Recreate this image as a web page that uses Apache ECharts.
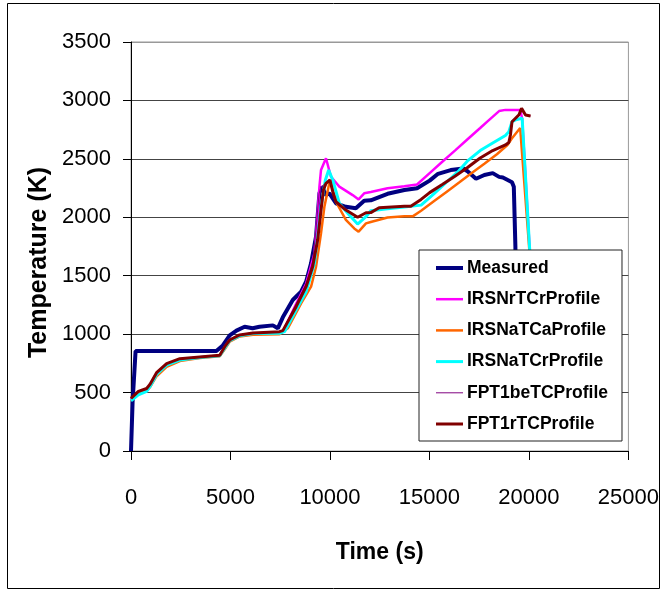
<!DOCTYPE html>
<html>
<head>
<meta charset="utf-8">
<script src="https://cdn.jsdelivr.net/npm/echarts@6/dist/echarts.min.js"></script>
<style>
html,body{margin:0;padding:0;background:#fff;}
#chart{width:662px;height:590px;}
</style>
</head>
<body>
<div id="chart"></div>
<script>
var seriesNames = ['Measured','IRSNrTCrProfile','IRSNaTCaProfile','IRSNaTCrProfile','FPT1beTCProfile','FPT1rTCProfile'];
var xTicks = [0,5000,10000,15000,20000,25000];
var yTicks = [0,500,1000,1500,2000,2500,3000,3500];

var measured = [[0,0],[80,420],[230,855],[1000,855],[2000,855],[3000,855],[4000,855],[4290,855],[4600,900],[4960,990],[5300,1030],[5710,1063],[6110,1050],[6460,1063],[7130,1075],[7380,1050],[7630,1144],[8130,1292],[8550,1363],[8800,1449],[9050,1606],[9300,1834],[9470,2205],[9600,2262],[9800,2190],[9970,2205],[10300,2120],[10800,2090],[11300,2077],[11720,2142],[12050,2145],[12895,2201],[13740,2233],[14375,2249],[15010,2314],[15433,2372],[16068,2404],[16700,2417],[16915,2394],[17340,2330],[17760,2362],[18180,2378],[18500,2346],[18690,2340],[19150,2300],[19240,2262],[19320,1748],[19380,600]];

var irsNrTCr = [[0,440],[370,505],[785,528],[950,565],[1285,665],[1790,744],[2455,785],[3460,802],[4460,815],[4710,890],[4960,950],[5460,990],[6130,1005],[7465,1015],[7630,1020],[8300,1260],[8800,1430],[9220,1692],[9380,2034],[9470,2262],[9550,2405],[9800,2505],[10050,2347],[10470,2262],[11140,2190],[11440,2153],[11720,2205],[12050,2217],[12895,2249],[13740,2265],[14375,2281],[15010,2378],[15645,2475],[16280,2571],[16915,2668],[17550,2764],[17975,2829],[18500,2909],[18820,2919],[19560,2919],[19660,2845],[20040,1720],[20100,600]];

var irsNaTCa = [[0,430],[370,495],[785,520],[950,545],[1285,640],[1790,720],[2455,770],[3460,795],[4460,810],[4710,870],[4960,935],[5460,980],[6130,995],[7465,1000],[7880,1050],[8550,1264],[9050,1406],[9300,1577],[9550,1862],[9720,2090],[10000,2319],[10300,2133],[10800,1977],[11220,1905],[11440,1877],[11810,1948],[12050,1960],[12895,1998],[13740,2008],[14160,2008],[14580,2056],[15220,2137],[15855,2217],[16490,2297],[17125,2378],[17760,2458],[18390,2539],[18920,2619],[19140,2674],[19560,2764],[19630,2761],[20020,1720],[20080,600]];

var irsNaTCr = [[0,430],[370,480],[785,510],[950,550],[1285,655],[1790,735],[2455,778],[3460,800],[4460,815],[4710,880],[4960,945],[5460,985],[6130,1005],[7465,1008],[7715,1021],[8300,1207],[8800,1363],[9220,1606],[9380,1834],[9550,2090],[9770,2319],[9935,2405],[10140,2319],[10470,2120],[10970,2020],[11390,1942],[11810,2005],[12050,2056],[12895,2072],[13740,2088],[14580,2104],[15220,2200],[15855,2300],[16490,2400],[16900,2480],[17550,2571],[18180,2635],[18820,2700],[18990,2732],[19150,2818],[19350,2835],[19660,2847],[20040,1720],[20100,600]];

var fpt1beTC = [[0,450],[370,510],[785,535],[950,570],[1285,670],[1790,748],[2455,790],[3460,805],[4460,815],[4710,890],[4960,950],[5460,993],[6130,1008],[7465,1018],[7630,1035],[8300,1260],[8800,1430],[9130,1620],[9300,1900],[9450,2200],[9550,2262],[9800,2290],[10000,2310],[10140,2219],[10300,2133],[10800,2062],[11390,2000],[11810,2039],[12050,2040],[12470,2082],[13740,2095],[14065,2095],[14580,2153],[15010,2211],[15645,2281],[16280,2352],[16915,2426],[17550,2507],[18180,2571],[18820,2619],[18990,2640],[19070,2704],[19150,2818],[19500,2877],[19630,2932],[19830,2875],[20080,2867]];

var fpt1rTC = [[0,450],[370,510],[785,535],[950,570],[1285,670],[1790,748],[2455,790],[3460,805],[4460,820],[4710,893],[4960,950],[5460,993],[6130,1010],[7465,1021],[7630,1030],[8300,1235],[8800,1406],[9130,1577],[9380,1805],[9550,2062],[9670,2233],[9800,2290],[10000,2319],[10140,2219],[10300,2133],[10800,2062],[11390,2000],[11810,2039],[12050,2040],[12470,2082],[13740,2095],[14065,2095],[14580,2153],[15010,2211],[15645,2281],[16280,2352],[16915,2426],[17550,2507],[18180,2571],[18820,2619],[18990,2640],[19070,2704],[19150,2818],[19500,2877],[19630,2932],[19830,2875],[20080,2867]];

var seriesData = [measured, irsNrTCr, irsNaTCa, irsNaTCr, fpt1beTC, fpt1rTC];
var colors = ['#000080','#FF00FF','#FF6600','#00FFFF','#800080','#800000'];
var widths = [4, 2.5, 2.5, 3, 1, 3];

var font = "'Liberation Sans',Arial,sans-serif";

function iconFor(w){
  var a = 7 - w/2, b = 7 + w/2;
  return 'path://M0,0 M27,14 M0,' + a + ' L27,' + a + ' L27,' + b + ' L0,' + b + ' Z';
}

var chart = echarts.init(document.getElementById('chart'), null, {renderer:'canvas'});
var option = {
  animation: false,
  backgroundColor: '#fff',
  grid: {left:131, right:32, top:42, bottom:139, show:true, borderColor:'#999', borderWidth:1, backgroundColor:'transparent'},
  xAxis: {
    type:'value', min:0, max:25000, interval:5000,
    name:'Time (s)', nameLocation:'middle', nameGap:90,
    nameTextStyle:{fontFamily:font, fontWeight:'bold', fontSize:23, color:'#000'},
    axisLine:{show:true, lineStyle:{color:'#000', width:1}},
    axisTick:{show:true, inside:false, length:9, lineStyle:{color:'#000'}},
    axisLabel:{margin:36, fontFamily:font, fontSize:22, color:'#000', formatter:function(v){return xTicks.indexOf(v)>=0?String(v):'';}},
    splitLine:{show:false}
  },
  yAxis: {
    type:'value', min:0, max:3500, interval:500,
    name:'Temperature (K)', nameLocation:'middle', nameGap:76, nameRotate:90,
    nameTextStyle:{fontFamily:font, fontWeight:'bold', fontSize:25, color:'#000', padding:[0,32,0,0]},
    axisLine:{show:true, lineStyle:{color:'#000', width:1}},
    axisTick:{show:true, inside:false, length:8, lineStyle:{color:'#000'}},
    axisLabel:{margin:20, fontFamily:font, fontSize:22, color:'#000', formatter:function(v){return yTicks.indexOf(v)>=0?String(v):'';}},
    splitLine:{show:true, lineStyle:{color:['#444','#444','#444','#444','#444','#444','#444','#999'], width:1}}
  },
  legend: {
    orient:'vertical', left:419, top:250, z:20,
    padding:[9,14,8,17], itemWidth:27, itemHeight:14, itemGap:13.2,
    symbolKeepAspect:false,
    backgroundColor:'#fff', borderColor:'#222', borderWidth:1,
    textStyle:{fontFamily:font, fontWeight:'bold', fontSize:17.5, color:'#000', padding:[0,0,0,-1]},
    itemStyle:{borderWidth:0},
    data: seriesNames.map(function(n,i){return {name:n, icon:iconFor(widths[i]), itemStyle:{color:colors[i], borderWidth:0}};})
  },
  graphic: [{type:'rect', shape:{x:7.5, y:3.5, width:652, height:585}, style:{fill:'none', stroke:'#000', lineWidth:1}, silent:true, z:-1}],
  series: seriesNames.map(function(n,i){
    return {name:n, type:'line', data:seriesData[i], symbol:'none', showSymbol:false,
      lineStyle:{color:colors[i], width:widths[i]}, itemStyle:{color:colors[i]}, z:2};
  })
};
chart.setOption(option);
</script>
</body>
</html>
